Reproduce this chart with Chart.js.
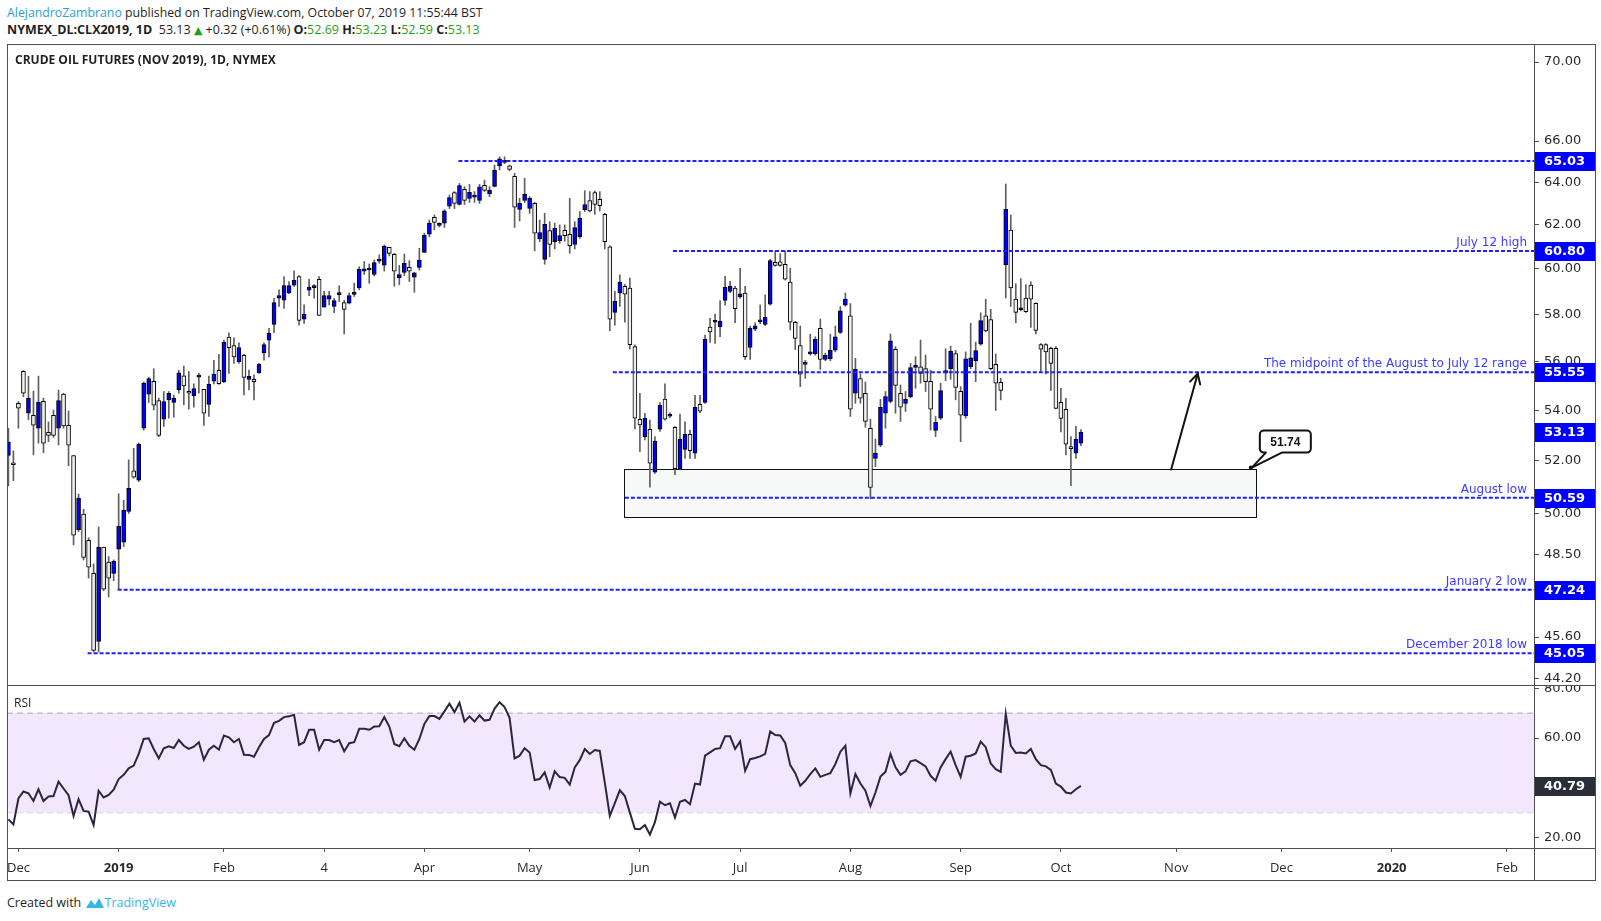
<!DOCTYPE html>
<html>
<head>
<meta charset="utf-8">
<title>Crude Oil Futures (Nov 2019)</title>
<script src="https://cdn.jsdelivr.net/npm/chart.js@4.4.1/dist/chart.umd.min.js"></script>
<style>
  html, body { margin: 0; padding: 0; background: #fff; }
  body { position: relative; width: 1601px; height: 921px; overflow: hidden; font-family: "Open Sans", sans-serif; color: #1f1f1f; }
  .txt { position: absolute; white-space: nowrap; line-height: 16px; }
  .ln { position: absolute; background: #505050; }
  canvas { position: absolute; }
  .g { color: #1f9e1f; }
</style>
</head>
<body>
  <div class="txt" style="left:7px;top:5px;font-size:12.3px"><span style="color:#2e9ed6">AlejandroZambrano</span> published on TradingView.com, October 07, 2019 11:55:44 BST</div>
  <div class="txt" style="left:7px;top:22px;font-size:12.5px"><b>NYMEX_DL:CLX2019, 1D</b>&nbsp; 53.13 <span class="g" style="font-family:'DejaVu Sans';font-size:11px">▲</span> +0.32 (+0.61%) <b>O:</b><span class="g">52.69</span> <b>H:</b><span class="g">53.23</span> <b>L:</b><span class="g">52.59</span> <b>C:</b><span class="g">53.13</span></div>

  <canvas id="price" width="1588" height="641" style="left:7px;top:44px"></canvas>
  <canvas id="rsi" width="1588" height="195" style="left:7px;top:685px"></canvas>

  <div class="ln" style="left:7px;top:44px;width:1589px;height:1px"></div>
  <div class="ln" style="left:7px;top:44px;width:1px;height:837px"></div>
  <div class="ln" style="left:1595px;top:44px;width:1px;height:837px"></div>
  <div class="ln" style="left:7px;top:880px;width:1589px;height:1px"></div>
  <div class="ln" style="left:1534px;top:44px;width:1px;height:837px"></div>
  <div class="ln" style="left:7px;top:685px;width:1589px;height:1px"></div>
  <div class="ln" style="left:7px;top:848px;width:1589px;height:1px"></div>

  <div class="txt" style="left:15px;top:52px;font-size:12px;font-weight:bold">CRUDE OIL FUTURES (NOV 2019), 1D, NYMEX</div>
  <div class="txt" style="left:14px;top:695px;font-size:12px">RSI</div>
  <div class="txt" style="left:7px;top:895px;font-size:12.5px">Created with <svg width="20" height="14" viewBox="0 0 20 14" style="vertical-align:-3px"><path d="M1 12 L6 4 L10 9 L14 2 L19 12 Z" fill="#38b4e8"/></svg><span style="color:#38b4e8">TradingView</span></div>

<script>
// daily candles, CLX2019, 29 Nov 2018 .. 07 Oct 2019 (index = trading day)
const open = [
  52.21,51.87,54.28,55.59,53.88,53.80,53.28,54.36,53.12,53.80,
  53.28,54.65,53.40,52.21,49.40,49.98,49.01,47.82,45.45,48.76,
  48.22,47.82,48.69,48.94,50.08,51.62,51.26,53.28,54.65,55.18,
  54.39,53.64,54.42,54.32,54.82,55.40,54.77,54.59,55.35,54.85,
  54.24,55.18,55.63,55.16,57.03,56.67,55.99,56.26,55.26,55.26,
  55.53,56.37,56.90,57.57,58.70,58.62,58.93,59.28,59.66,57.79,
  59.06,59.17,59.54,58.31,58.66,58.34,58.86,58.51,58.49,58.87,
  59.15,59.90,59.95,59.75,60.35,60.17,60.97,60.66,59.60,59.84,
  60.07,59.63,60.07,60.74,61.57,62.35,61.98,62.08,62.87,63.51,
  62.95,63.67,63.24,63.30,63.14,63.86,63.46,63.81,64.79,64.96,
  64.79,64.29,62.72,63.14,62.77,63.00,61.37,60.43,61.74,61.23,
  61.28,61.75,61.57,61.11,61.46,62.71,63.14,63.51,63.19,62.49,
  61.00,58.09,58.93,59.22,59.15,56.62,53.64,52.95,53.24,51.56,
  53.24,54.45,53.76,53.32,51.70,52.45,53.04,52.30,54.24,54.32,
  57.45,57.66,57.47,58.61,59.00,59.15,58.76,58.93,56.59,57.36,
  57.68,57.57,58.44,60.29,60.32,60.20,59.41,57.66,56.67,55.88,
  56.32,56.33,57.40,56.08,56.12,56.47,57.23,58.40,57.94,54.69,
  55.29,54.69,53.28,52.10,52.61,53.88,54.36,56.51,54.69,54.28,
  54.55,55.75,55.78,55.70,55.18,53.19,53.68,55.52,55.70,56.33,
  54.77,53.77,55.78,56.03,56.73,57.94,57.78,55.88,55.14,60.19,
  61.76,58.66,58.20,58.71,59.28,58.48,56.71,56.71,56.55,56.55,
  54.32,54.04,52.50,52.30,52.69
];
const high = [
  53.28,52.39,54.35,55.62,55.39,54.78,55.39,54.49,53.53,54.01,
  54.82,54.69,53.97,52.21,50.73,50.16,49.10,48.16,49.50,48.76,
  48.42,48.30,50.74,50.49,52.04,52.49,52.70,55.15,55.35,55.70,
  54.49,54.76,54.76,54.62,55.64,55.81,55.58,55.07,55.51,54.85,
  55.39,56.05,56.30,56.90,57.21,56.99,56.78,56.30,55.64,55.44,
  55.92,56.78,57.40,58.70,59.07,59.66,59.44,59.91,59.70,58.41,
  59.54,59.30,59.66,59.00,59.00,58.70,59.25,58.62,58.93,59.37,
  60.10,60.33,60.22,60.40,60.63,61.08,60.97,60.70,60.16,60.67,
  60.37,59.85,60.93,61.62,62.23,62.46,62.10,62.71,63.40,63.56,
  63.95,63.79,63.90,63.56,63.90,64.11,63.79,64.83,65.23,65.23,
  64.83,64.43,63.24,64.19,63.32,63.05,62.23,62.54,62.15,62.08,
  62.00,62.00,63.24,62.15,62.62,63.60,63.56,63.59,63.56,62.54,
  61.05,59.00,59.74,59.30,59.59,56.70,54.69,53.88,53.61,52.95,
  54.31,55.07,53.90,53.35,53.85,53.54,53.21,54.60,54.60,57.11,
  57.83,58.01,58.60,59.67,59.45,59.22,60.03,59.22,57.50,57.64,
  58.41,58.85,60.43,60.80,60.69,60.80,60.03,57.70,57.50,56.05,
  57.15,57.04,57.80,56.35,57.15,57.50,58.34,58.93,58.47,56.13,
  55.48,55.15,53.64,52.85,54.44,54.76,57.16,56.62,55.03,54.76,
  55.92,56.20,56.90,56.27,55.64,53.75,55.10,56.53,56.64,56.47,
  54.96,56.40,57.62,56.81,58.07,58.66,58.22,56.31,55.30,63.92,
  62.46,59.34,59.57,59.30,59.43,58.50,56.75,56.75,56.60,56.62,
  54.89,54.48,52.95,53.36,53.23
];
const low = [
  51.04,51.24,53.28,54.55,53.62,52.23,52.69,52.32,52.75,52.92,
  52.62,53.28,51.81,48.84,49.33,48.30,47.65,45.10,45.10,47.20,
  46.98,47.56,47.24,48.78,50.00,51.33,51.20,53.20,54.31,54.01,
  52.95,53.35,53.68,53.72,54.69,54.22,54.04,54.12,54.69,53.39,
  53.75,55.07,55.05,55.12,55.50,55.92,55.92,54.62,54.82,54.42,
  55.50,56.05,56.19,57.21,58.34,58.26,58.90,59.22,57.54,57.61,
  58.81,58.70,57.96,58.31,58.41,58.07,58.56,57.16,58.45,58.78,
  59.07,59.75,59.36,59.68,60.25,59.90,60.58,59.23,59.29,59.70,
  59.44,58.96,59.95,60.74,61.45,61.77,61.90,61.88,62.76,62.76,
  62.92,62.95,63.05,63.05,63.00,63.56,63.32,63.78,64.59,64.90,
  64.55,61.88,62.18,63.05,62.54,60.81,61.23,60.21,60.55,60.90,
  61.15,61.25,60.70,60.90,61.38,62.62,62.60,62.49,62.65,60.90,
  57.30,57.54,58.34,57.66,56.52,53.25,52.36,52.82,50.99,51.52,
  53.15,53.60,53.70,51.47,51.65,52.10,52.10,52.10,53.90,54.28,
  56.80,56.76,57.04,58.40,58.95,57.64,58.70,56.08,56.08,57.30,
  57.60,57.52,58.40,60.12,60.12,59.50,57.33,56.50,54.96,55.30,
  56.26,56.26,55.67,56.03,56.03,56.40,57.18,58.35,53.75,54.28,
  54.28,53.32,50.55,51.78,52.55,53.28,54.30,53.88,53.55,53.95,
  54.50,54.89,55.10,54.76,53.21,52.95,53.62,55.20,55.26,54.42,
  52.75,53.68,55.70,55.16,56.68,57.25,55.65,53.99,54.42,58.71,
  58.34,57.64,58.15,58.08,57.44,57.16,55.60,55.48,54.80,54.05,
  53.13,52.23,51.05,52.10,52.59
];
const close = [
  52.73,51.85,54.08,54.69,54.49,53.40,54.32,52.69,53.00,53.00,
  54.39,53.37,52.61,49.20,50.58,48.39,48.04,45.15,48.76,47.26,
  47.65,48.25,49.53,50.12,50.95,51.37,52.65,55.10,55.29,54.20,
  53.00,54.35,54.69,54.49,55.53,54.99,54.69,54.88,55.37,53.88,
  55.05,55.48,55.08,56.80,56.58,56.19,56.58,55.34,55.38,55.16,
  55.88,56.71,57.19,58.51,58.82,59.26,59.26,59.49,57.74,58.00,
  59.19,59.24,57.96,58.82,58.82,58.60,58.88,58.22,58.82,58.88,
  59.99,60.00,59.97,60.28,60.37,61.03,60.70,59.90,59.75,60.25,
  59.90,59.82,60.39,61.52,62.08,62.12,62.02,62.65,63.27,63.00,
  63.84,63.14,63.52,63.34,63.79,63.62,63.62,64.57,65.13,65.00,
  64.62,62.82,63.00,63.43,63.24,61.62,61.65,62.03,61.11,61.85,
  61.51,61.51,61.05,61.88,62.31,62.95,62.65,62.95,62.90,61.23,
  57.79,58.57,59.41,58.88,56.71,53.68,53.41,53.68,51.91,52.77,
  54.20,53.64,53.84,51.70,52.84,53.04,52.40,54.12,53.96,56.93,
  57.25,57.68,57.71,59.18,59.22,58.25,58.89,56.20,57.40,57.51,
  57.70,57.87,60.37,60.16,60.16,59.54,57.66,56.97,55.47,55.90,
  56.34,56.93,56.08,56.26,56.47,57.04,58.15,58.66,54.04,55.67,
  54.49,53.55,50.98,52.30,54.12,54.55,56.87,55.01,54.12,54.44,
  55.75,55.84,55.50,55.16,54.04,53.52,54.80,55.62,56.44,54.93,
  53.80,56.11,56.15,56.46,57.73,57.29,55.70,55.10,54.80,62.72,
  59.15,58.09,58.24,58.12,58.66,57.31,56.51,56.40,55.92,54.07,
  53.67,52.65,52.48,52.85,53.13
];
const rsi = [
  27.3,25.3,35.7,38.5,37.8,34.7,39.4,34.7,36.5,36.7,
  42.5,39.7,37.0,28.7,35.4,30.7,30.4,25.0,38.8,36.1,
  37.1,39.2,43.5,45.2,47.8,48.9,53.6,59.6,59.9,55.6,
  51.8,55.9,56.7,56.0,59.2,56.9,55.6,56.5,58.3,51.3,
  55.3,56.9,55.3,61.0,60.3,58.3,59.6,53.3,53.2,52.5,
  56.3,59.6,61.2,66.1,66.9,68.4,68.7,69.3,57.2,58.3,
  63.3,63.3,55.3,59.2,59.2,58.3,59.2,54.6,57.9,58.3,
  63.7,63.7,63.3,64.6,64.7,68.4,64.6,57.6,56.7,59.9,
  56.9,55.3,59.6,65.7,68.8,68.8,67.7,70.7,73.8,70.4,
  74.2,66.6,68.7,66.6,69.1,67.0,67.3,71.8,74.4,72.4,
  68.1,51.8,52.9,55.9,54.2,43.1,43.5,46.2,40.1,46.6,
  44.3,44.0,41.3,48.2,51.1,55.6,53.6,55.2,54.8,42.1,
  28.7,33.8,39.0,36.7,30.0,23.5,23.3,25.0,21.2,26.2,
  34.4,33.0,33.8,28.0,34.4,35.1,33.4,41.7,41.3,52.9,
  54.2,55.6,55.9,60.7,60.7,55.6,58.6,46.8,51.5,52.0,
  52.6,53.6,62.6,61.2,61.0,58.0,49.1,45.9,40.8,42.8,
  45.5,47.8,44.4,45.2,45.9,49.5,54.5,56.9,37.7,45.5,
  41.7,38.8,32.7,38.1,44.5,46.4,53.6,48.2,45.2,46.6,
  50.6,51.1,49.9,48.6,44.8,42.8,48.2,51.5,54.5,49.1,
  44.4,52.5,52.9,53.8,58.6,56.3,49.8,47.5,46.4,69.7,
  56.9,54.0,54.2,53.8,55.6,51.5,49.1,48.6,47.2,41.7,
  40.5,38.1,37.7,39.4,40.79
];

const tickIdx = [2, 22, 43, 63, 83, 104, 126, 146, 168, 190, 210, 233, 254, 276, 299];
const tickLabels = ["Dec", "2019", "Feb", "4", "Apr", "May", "Jun", "Jul", "Aug", "Sep", "Oct", "Nov", "Dec", "2020", "Feb"];
const priceTicks = [70, 66, 64, 62, 60, 58, 56, 54, 52, 50, 48.5, 47, 45.6, 44.2];
const rsiTicks = [80, 60, 40, 20];
const rsiBand = [70, 30];

const levels = [65.03, 60.80, 55.55, 50.59, 47.24, 45.05];
const levelStart = [89.8, 132.6, 120.6, 123.0, 21.8, 15.8];
const levelNames = ["", "July 12 high", "The midpoint of the August to July 12 range", "August low", "January 2 low", "December 2018 low"];
const lastPrice = 53.13;
const lastRsi = 40.79;

const zone = { from: 122.8, to: 248.9, top: 51.67, bottom: 49.86 };
const callout = { x: 247.9, y: 51.74, text: "51.74" };
const arrowFrom = [232.0, 51.67];
const arrowTo = [237.3, 55.49];

const X_MIN = -0.28, X_MAX = 304.4;

const days = close.map((c, i) => i);
const candleFill = days.map(i => close[i] >= open[i] ? "#0000ff" : "#efefef");

const priceMarks = {
  id: "priceMarks",
  beforeDatasetsDraw(chart) {
    const { ctx, scales: { x, y } } = chart;
    const x0 = Math.round(x.getPixelForValue(zone.from)), x1 = Math.round(x.getPixelForValue(zone.to));
    const y0 = Math.round(y.getPixelForValue(zone.top)), y1 = Math.round(y.getPixelForValue(zone.bottom));
    ctx.save();
    ctx.fillStyle = "#f7f9f9";
    ctx.fillRect(x0, y0, x1 - x0, y1 - y0);
    ctx.strokeStyle = "#111";
    ctx.lineWidth = 1;
    ctx.strokeRect(x0 + 0.5, y0 + 0.5, x1 - x0, y1 - y0);
    ctx.restore();
  },
  afterDatasetsDraw(chart) {
    const { ctx, chartArea, scales: { x, y } } = chart;
    ctx.save();
    // level captions
    ctx.font = '12px "DejaVu Sans"';
    ctx.fillStyle = "#3b3bff";
    ctx.textAlign = "right";
    ctx.textBaseline = "alphabetic";
    levels.forEach((v, k) => {
      if (levelNames[k]) ctx.fillText(levelNames[k], chartArea.right - 7, y.getPixelForValue(v) - 5);
    });

    // arrow
    const ax0 = x.getPixelForValue(arrowFrom[0]), ay0 = y.getPixelForValue(arrowFrom[1]);
    const ax1 = x.getPixelForValue(arrowTo[0]), ay1 = y.getPixelForValue(arrowTo[1]);
    ctx.strokeStyle = "#111";
    ctx.lineWidth = 2;
    ctx.lineCap = "round";
    ctx.beginPath();
    ctx.moveTo(ax0, ay0);
    ctx.lineTo(ax1, ay1);
    ctx.stroke();
    const ang = Math.atan2(ay1 - ay0, ax1 - ax0);
    ctx.beginPath();
    ctx.moveTo(ax1 - 11 * Math.cos(ang - 0.5), ay1 - 11 * Math.sin(ang - 0.5));
    ctx.lineTo(ax1, ay1);
    ctx.lineTo(ax1 - 11 * Math.cos(ang + 0.5), ay1 - 11 * Math.sin(ang + 0.5));
    ctx.stroke();

    // callout bubble
    const cx = x.getPixelForValue(callout.x), cy = y.getPixelForValue(callout.y);
    const L = cx + 9, T = cy - 37, W = 51, H = 22, r = 4;
    ctx.lineWidth = 2;
    ctx.lineJoin = "round";
    ctx.beginPath();
    ctx.moveTo(L + r, T);
    ctx.lineTo(L + W - r, T);
    ctx.arcTo(L + W, T, L + W, T + r, r);
    ctx.lineTo(L + W, T + H - r);
    ctx.arcTo(L + W, T + H, L + W - r, T + H, r);
    ctx.lineTo(L + 22, T + H);
    ctx.lineTo(cx + 1, cy);
    ctx.lineTo(L + 6, T + H);
    ctx.lineTo(L + r, T + H);
    ctx.arcTo(L, T + H, L, T + H - r, r);
    ctx.lineTo(L, T + r);
    ctx.arcTo(L, T, L + r, T, r);
    ctx.closePath();
    ctx.fillStyle = "#fff";
    ctx.fill();
    ctx.stroke();
    ctx.fillStyle = "#111";
    ctx.beginPath();
    ctx.arc(cx, cy, 2, 0, Math.PI * 2);
    ctx.fill();
    ctx.font = 'bold 12px "Liberation Sans"';
    ctx.textAlign = "center";
    ctx.textBaseline = "middle";
    ctx.fillText(callout.text, L + W / 2, T + H / 2 + 1);
    ctx.restore();
  },
  afterDraw(chart) {
    const { ctx, chartArea, scales: { y } } = chart;
    ctx.save();
    ctx.font = 'bold 13px "DejaVu Sans"';
    ctx.textAlign = "left";
    ctx.textBaseline = "middle";
    [...levels, lastPrice].forEach(v => {
      const yy = Math.round(y.getPixelForValue(v));
      ctx.fillStyle = "#0000ff";
      ctx.fillRect(chartArea.right + 1, yy - 9, 61, 19);
      ctx.fillStyle = "#fff";
      ctx.fillText(v.toFixed(2), chartArea.right + 10, yy + 1);
    });
    ctx.restore();
  }
};

const rsiMarks = {
  id: "rsiMarks",
  afterDraw(chart) {
    const { ctx, chartArea, scales: { y } } = chart;
    const yy = Math.round(y.getPixelForValue(lastRsi));
    ctx.save();
    ctx.fillStyle = "#2a2e39";
    ctx.fillRect(chartArea.right + 1, yy - 9, 61, 19);
    ctx.fillStyle = "#fff";
    ctx.font = 'bold 13px "DejaVu Sans"';
    ctx.textBaseline = "middle";
    ctx.fillText(lastRsi.toFixed(2), chartArea.right + 10, yy + 1);
    ctx.restore();
  }
};

// fixed axis sizes, no label padding, so the plot area fills the pane exactly
function fitY(s) { s.width = 61; s.paddingTop = 0; s.paddingBottom = 0; }
function fitX(s) { s.height = 32; s.paddingLeft = 0; s.paddingRight = 0; }

const common = {
  responsive: false,
  animation: false,
  devicePixelRatio: 1,
  events: [],
  layout: { padding: 0, autoPadding: false },
  plugins: { legend: { display: false }, tooltip: { enabled: false } }
};

new Chart(document.getElementById("price"), {
  type: "bar",
  data: {
    datasets: [
      ...levels.map((v, k) => ({
        type: "line",
        data: [{ x: levelStart[k], y: v }, { x: X_MAX, y: v }],
        borderColor: "#1f1fff",
        borderWidth: 2,
        borderDash: [4, 2],
        pointRadius: 0,
        order: 0
      })),
      {
        type: "bar",
        data: days.map(i => ({ x: i, y: [open[i], close[i]] })),
        backgroundColor: candleFill,
        borderColor: "#000",
        borderWidth: 1,
        borderSkipped: false,
        barThickness: 4,
        minBarLength: 2,
        grouped: false,
        order: 1
      },
      {
        type: "bar",
        data: days.map(i => ({ x: i, y: [low[i], high[i]] })),
        backgroundColor: "#5f5f5f",
        borderWidth: 0,
        barThickness: 1,
        grouped: false,
        order: 2
      }
    ]
  },
  options: {
    ...common,
    scales: {
      x: { type: "linear", min: X_MIN, max: X_MAX, offset: false, display: false },
      y: {
        type: "logarithmic",
        position: "right",
        min: 44.0,
        max: 70.95,
        afterBuildTicks: s => { s.ticks = priceTicks.map(v => ({ value: v })); },
        afterFit: fitY,
        grid: { drawOnChartArea: false, drawTicks: true, tickLength: 5, color: "#505050" },
        border: { display: false },
        ticks: {
          autoSkip: false,
          padding: 5,
          color: "#2a2a2a",
          font: { family: "DejaVu Sans", size: 13 },
          callback: v => Number(v).toFixed(2)
        }
      }
    }
  },
  plugins: [priceMarks]
});

new Chart(document.getElementById("rsi"), {
  type: "line",
  data: {
    datasets: [
      {
        data: days.map(i => ({ x: i, y: rsi[i] })),
        borderColor: "#2b2640",
        borderWidth: 2,
        pointRadius: 0,
        fill: false,
        order: 0
      },
      {
        data: [{ x: X_MIN, y: rsiBand[0] }, { x: X_MAX, y: rsiBand[0] }],
        borderColor: "#aca5b5",
        borderWidth: 1,
        borderDash: [6, 4],
        pointRadius: 0,
        fill: "+1",
        backgroundColor: "#f3e7fd",
        order: 1
      },
      {
        data: [{ x: X_MIN, y: rsiBand[1] }, { x: X_MAX, y: rsiBand[1] }],
        borderColor: "#aca5b5",
        borderWidth: 1,
        borderDash: [6, 4],
        pointRadius: 0,
        fill: false,
        order: 2
      }
    ]
  },
  options: {
    ...common,
    scales: {
      x: {
        type: "linear",
        min: X_MIN,
        max: X_MAX,
        afterBuildTicks: s => { s.ticks = tickIdx.map(v => ({ value: v })); },
        afterFit: fitX,
        grid: { drawOnChartArea: false, drawTicks: true, tickLength: 4, color: "#505050" },
        border: { display: false },
        ticks: {
          autoSkip: false,
          maxRotation: 0,
          padding: 8,
          color: "#2a2a2a",
          font: c => ({ family: "Open Sans", size: 13, weight: /^\d{4}$/.test(tickLabels[c.index]) ? "bold" : "normal" }),
          callback: (v, k) => tickLabels[k]
        }
      },
      y: {
        type: "linear",
        position: "right",
        min: 15.8,
        max: 81.3,
        afterBuildTicks: s => { s.ticks = rsiTicks.map(v => ({ value: v })); },
        afterFit: fitY,
        grid: { drawOnChartArea: false, drawTicks: true, tickLength: 5, color: "#505050" },
        border: { display: false },
        ticks: {
          autoSkip: false,
          padding: 5,
          color: "#2a2a2a",
          font: { family: "DejaVu Sans", size: 13 },
          callback: v => Number(v).toFixed(2)
        }
      }
    }
  },
  plugins: [rsiMarks]
});
</script>
</body>
</html>
